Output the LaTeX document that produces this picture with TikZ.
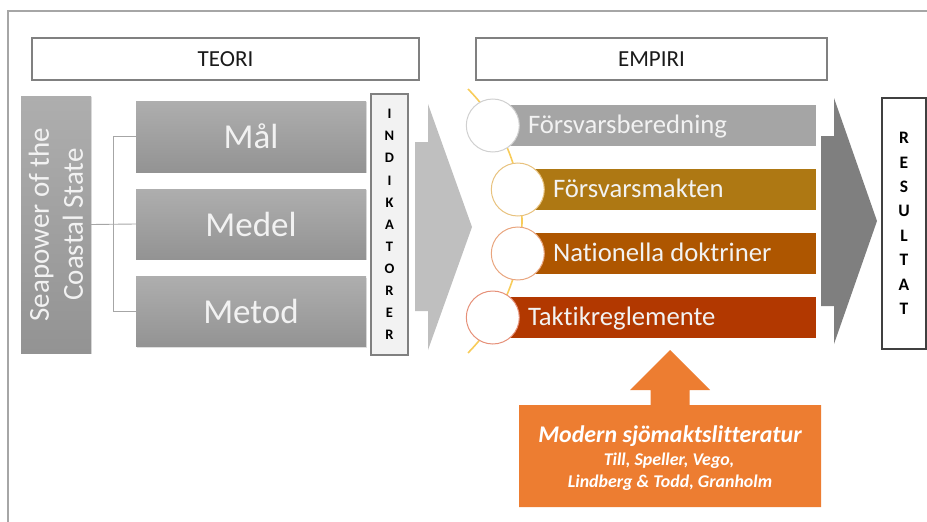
\documentclass[tikz,border=0pt]{standalone}
\usepackage{fontspec}
\setmainfont{Carlito}[Ligatures=NoCommon]
\usetikzlibrary{shadows}
\definecolor{framegray}{HTML}{A6A6A6}
\definecolor{hdrline}{HTML}{808080}
\definecolor{gT}{HTML}{AEAEAE}
\definecolor{gB}{HTML}{939393}
\definecolor{txtlight}{HTML}{F2F2F2}
\definecolor{lineg}{HTML}{A6A6A6}
\definecolor{indfill}{HTML}{F2F2F2}
\definecolor{resline}{HTML}{404040}
\definecolor{lightarrow}{HTML}{BFBFBF}
\definecolor{darkarrow}{HTML}{7F7F7F}
\definecolor{barA}{HTML}{A5A5A5}
\definecolor{barB}{HTML}{AE7813}
\definecolor{barC}{HTML}{AE5600}
\definecolor{barD}{HTML}{B23800}
\definecolor{cirA}{HTML}{D0D0D0}
\definecolor{cirB}{HTML}{E8C27E}
\definecolor{cirC}{HTML}{E9A57E}
\definecolor{cirD}{HTML}{E69078}
\definecolor{arcyel}{HTML}{F8CC5A}
\definecolor{orng}{HTML}{ED7D31}
\definecolor{hdrtxt}{HTML}{1A1A1A}
\begin{document}
\begin{tikzpicture}[x=1pt,y=-1pt,
  hdrbox/.style={draw=hdrline, line width=1.2pt, fill=white, inner sep=0pt,
    text=hdrtxt, font=\fontsize{23}{27}\selectfont},
  graybox/.style={top color=gT, bottom color=gB, draw=none, inner sep=0pt,
    text=txtlight, drop shadow={shadow xshift=1.2pt, shadow yshift=-1.2pt, opacity=0.25}},
  bigtxt/.style={font=\fontsize{35}{40}\selectfont},
  conn/.style={draw=lineg, line width=0.9pt},
  stackbox/.style={inner sep=0pt, align=center, line width=1.1pt},
  barbox/.style={draw=none, inner sep=0pt, minimum height=41pt},
  bartext/.style={anchor=base west, inner sep=0pt, text=txtlight, font=\fontsize{26.7}{30}\selectfont},
  ring/.style={circle, fill=white, line width=1pt, minimum size=53pt, inner sep=0pt},
  otext/.style={anchor=base, inner sep=0pt, text=white}
]
\useasboundingbox (0,0) rectangle (927,522);
% frame
\draw[framegray, line width=1.4pt] (8,522) -- (8,11) -- (927,11);
% headers
\node[hdrbox, minimum width=387pt, minimum height=42pt] (teori) at (225.5,59) {TEORI};
\node[hdrbox, minimum width=351pt, minimum height=42pt] (empiri) at (651.5,59) {EMPIRI};
% theory boxes
\node[graybox, minimum width=70pt, minimum height=257pt] (sea) at (56,224.5) {};
\node[rotate=90, align=center, inner sep=0pt, text=txtlight,
      font=\fontsize{29}{34}\selectfont] (seat) at (sea.center) {Seapower of the\\Coastal State};
\node[graybox, bigtxt, minimum width=230pt, minimum height=71pt] (mal) at (251,136.5) {Mål};
\node[graybox, bigtxt, minimum width=230pt, minimum height=70pt] (medel) at (251,224) {Medel};
\node[graybox, bigtxt, minimum width=230pt, minimum height=70pt] (metod) at (251,311.5) {Metod};
% connectors
\draw[conn] (sea.east) -- (medel.west);
\draw[conn] (mal.west) -- ++(-22,0) |- (metod.west);
% indikatorer
\node[stackbox, draw=hdrline, fill=indfill, minimum width=37pt, minimum height=261pt,
      font=\fontsize{14.5}{22.1}\selectfont\bfseries] (ind) at (389.5,224.5)
      {I\\N\\D\\I\\K\\A\\T\\O\\R\\E\\R};
% light chevron
\fill[lightarrow] (415,142) -- (428,142) -- (428,104) -- (472,227) -- (428,350)
   -- (428,311) -- (415,311) -- cycle;
% yellow arc
\draw[arcyel, line width=1.6pt] (468,89) arc[start angle=-44.5, end angle=44.5, radius=188.3];
% bars
\node[barbox, fill=barA, minimum width=323pt] (b1) at (654.5,125.5) {};
\node[barbox, fill=barB, minimum width=298pt] (b2) at (667,189.5) {};
\node[barbox, fill=barC, minimum width=298pt] (b3) at (667,253.5) {};
\node[barbox, fill=barD, minimum width=323pt] (b4) at (654.5,317.5) {};
\node[ring, draw=cirA] (c1) at (b1.west) {};
\node[ring, draw=cirB] (c2) at (b2.west) {};
\node[ring, draw=cirC] (c3) at (b3.west) {};
\node[ring, draw=cirD] (c4) at (b4.west) {};
\node[bartext] (t1) at ([xshift=35pt,yshift=-7.5pt]b1.west) {Försvarsberedning};
\node[bartext] (t2) at ([xshift=35pt,yshift=-7.5pt]b2.west) {Försvarsmakten};
\node[bartext] (t3) at ([xshift=35pt,yshift=-7.5pt]b3.west) {Nationella doktriner};
\node[bartext] (t4) at ([xshift=35pt,yshift=-7.5pt]b4.west) {Taktikreglemente};
% dark chevron
\fill[darkarrow] (821,136) -- (834,136) -- (834,98) -- (877,221) -- (834,344)
   -- (834,306) -- (821,306) -- cycle;
% resultat
\node[stackbox, draw=resline, fill=white, minimum width=44pt, minimum height=251pt,
      font=\fontsize{17.5}{24.4}\selectfont\bfseries] (res) at (904,223.5)
      {R\\E\\S\\U\\L\\T\\A\\T};
% orange arrow box
\fill[orng] (519,405) -- (650.5,405) -- (650.5,390) -- (630,390) -- (670,350)
   -- (710,390) -- (689.5,390) -- (689.5,405) -- (821,405) -- (821,507)
   -- (519,507) -- cycle;
\node[otext, font=\fontsize{23.9}{27}\selectfont\bfseries\itshape] (o1) at (670,442) {Modern sjömaktslitteratur};
\node[otext, font=\fontsize{17.9}{21}\selectfont\bfseries\itshape] (o2) at (669,465) {Till, Speller, Vego,};
\node[otext, font=\fontsize{17.9}{21}\selectfont\bfseries\itshape] (o3) at (670,487) {Lindberg \& Todd, Granholm};
\end{tikzpicture}
\end{document}
